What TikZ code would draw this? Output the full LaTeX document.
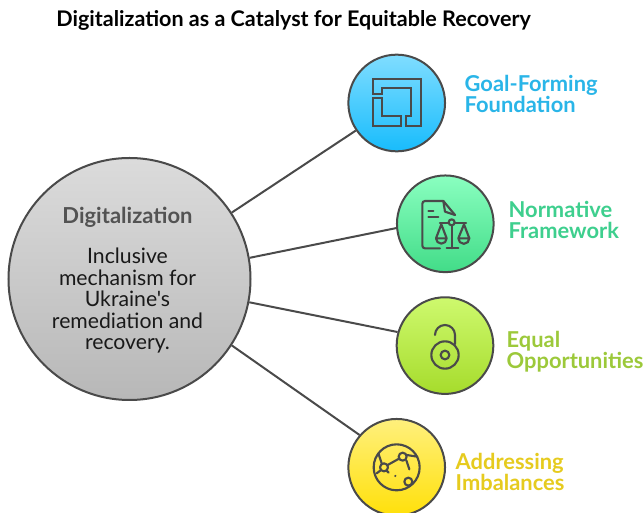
\documentclass[tikz,border=0pt]{standalone}
\usepackage{fontspec}
\setmainfont{Lato}
\newfontfamily\plainlato{Lato}
\definecolor{ink}{HTML}{4A4A4A}
\tikzset{
  sat/.style={circle,draw=ink,line width=1.5pt,minimum size=72.5pt,inner sep=0pt},
  link/.style={draw=ink,line width=1.5pt},
  glyph/.style={draw=ink,line width=1.6pt,line join=round,line cap=round},
  lab/.style={font=\bfseries\fontsize{16.4}{15.8}\selectfont,align=left,anchor=west},
}
\begin{document}
\begin{tikzpicture}[x=.75pt,y=-.75pt]
\useasboundingbox (0,0) rectangle (644,513);
\fill[white] (0,0) rectangle (644,513);
\node[font=\bfseries\fontsize{16.15}{18}\selectfont,anchor=center,text=black] (title) at (293.5,20.5) {Digitalization as a Catalyst for Equitable Recovery};
\node[sat,minimum size=181.5pt,top color=black!14,bottom color=black!28] (main) at (129.5,279) {};
\node[sat,top color={rgb,255:red,128;green,221;blue,255},bottom color={rgb,255:red,24;green,188;blue,252}] (a) at (396.7,103) {};
\node[sat,top color={rgb,255:red,138;green,255;blue,192},bottom color={rgb,255:red,66;green,220;blue,136}] (b) at (445.3,223.8) {};
\node[sat,top color={rgb,255:red,206;green,249;blue,110},bottom color={rgb,255:red,166;green,220;blue,44}] (c) at (445,345.6) {};
\node[sat,top color={rgb,255:red,255;green,240;blue,125},bottom color={rgb,255:red,255;green,224;blue,10}] (d) at (396.7,467.3) {};
\draw[link] (main.33.4) -- (a.214);
\draw[link] (main.10.8) -- (b.185.2);
\draw[link] (main.-11.1) -- (c.164);
\draw[link] (main.-33.2) -- (d.139);
\node[font=\bfseries\fontsize{16.5}{18}\selectfont,text=ink!95] (head) at (127.5,217) {Digitalization};
\node[font=\plainlato\fontsize{15.9}{16.2}\selectfont,align=center,text=black!90] (body) at (127.5,300.8) {Inclusive\\mechanism for\\Ukraine's\\remediation and\\recovery.};
\node[lab,text={rgb,255:red,41;green,181;blue,232}] (la) at (460,94) {Goal-Forming\\Foundation};
\node[lab,text={rgb,255:red,62;green,207;blue,142}] (lb) at (504,219.5) {Normative\\Framework};
\node[lab,text={rgb,255:red,156;green,201;blue,58}] (lc) at (502,351.5) {Equal\\Opportunities};
\node[lab,text={rgb,255:red,230;green,203;blue,30}] (ld) at (451,472) {Addressing\\Imbalances};
\begin{scope}[shift={(340,45)},x=.25pt,y=-.25pt]
\draw[glyph,line cap=butt,line join=miter] (98,102)--(242,102)--(242,244)--(198,244)--(198,213)--(214,213)--(214,128)--(127,128)--(127,147)--(98,147)--cycle;
\draw[glyph,line cap=butt,line join=miter] (98,160)--(127,160)--(127,213)--(183,213)--(183,244)--(98,244)--cycle;
\end{scope}
\begin{scope}[shift={(390,170)},x=.25pt,y=-.25pt]
\draw[glyph] (150,235)--(105,235) to[out=180,in=-90] (97,227)--(97,101) to[out=90,in=180] (105,93)--(160,93)--(195,135);
\draw[glyph] (160,93)--(165,125)--(195,135);
\draw[glyph] (115,122)--(130,122) (115,142)--(145,142);
\draw[glyph] (150,160)--(176,160) (194,160)--(228,160);
\draw[glyph] (185,157) circle[radius=9];
\draw[glyph] (185,166)--(185,235) (170,235)--(205,235);
\draw[glyph] (154,163)--(138,205)--(170,205)--cycle (138,205) arc[start angle=180,end angle=0,radius=16];
\draw[glyph] (222,163)--(205,205)--(238,205)--cycle (205,205) arc[start angle=180,end angle=0,radius=16.5];
\end{scope}
\begin{scope}[shift={(390,290)},x=.25pt,y=-.25pt]
\draw[glyph] (165,195) circle[radius=41];
\draw[glyph] (165,195) circle[radius=13];
\draw[glyph] (135,135) arc[start angle=180,end angle=360,radius=30] -- (195,162);
\end{scope}
\begin{scope}[shift={(340,410)},x=.25pt,y=-.25pt]
\draw[glyph] (170,172) circle[radius=69];
\draw[glyph] (132,172) circle[radius=12];
\draw[glyph] (188,140) circle[radius=12];
\draw[glyph] (205,215) circle[radius=12];
\draw[glyph] (115,130)--(125,160) (143,165)--(177,146) (200,135)--(232,140) (199,151)--(208,178) (122,181)--(110,190) (140,182)--(146,188);
\fill[ink] (166,198) circle[radius=3.5];
\end{scope}
\end{tikzpicture}
\end{document}
